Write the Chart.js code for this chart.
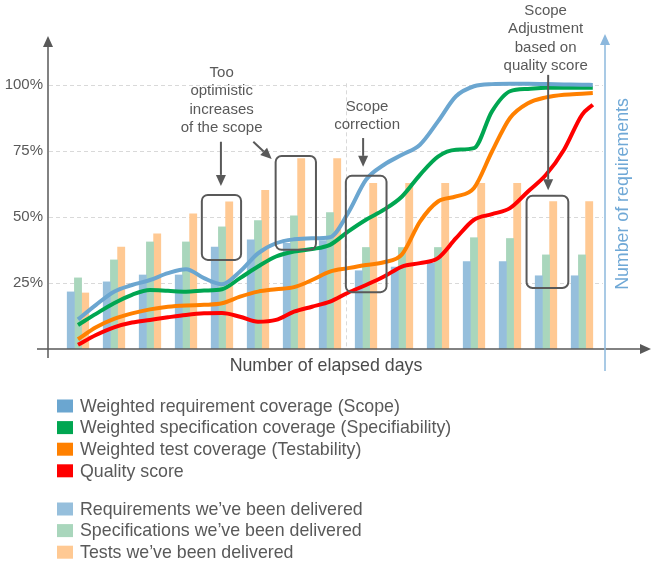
<!DOCTYPE html>
<html>
<head>
<meta charset="utf-8">
<script src="https://cdn.jsdelivr.net/npm/chart.js@4/dist/chart.umd.min.js"></script>
<style>
  html, body { margin: 0; padding: 0; background: #fff; }
  #grafica { display: block; }
</style>
</head>
<body>
<canvas id="grafica" width="654" height="571"></canvas>
<script>
// categories (elapsed days) and delivered items per day, in % of the scale
var days = ["1", "2", "3", "4", "5", "6", "7", "8", "9", "10", "11", "12", "13", "14", "15"];
var reqDelivered  = [21.6, 25.4, 28, 28, 38.6, 41.3, 40, 41, 29.6, 31, 32.4, 33.1, 33.1, 27.7, 27.7];
var specDelivered = [26.9, 33.7, 40.5, 40.5, 46.2, 48.6, 50.4, 51.6, 38.4, 38.4, 38.4, 42.1, 41.8, 35.6, 35.6];
var testDelivered = [21.2, 38.6, 43.6, 51.1, 55.7, 60, 72, 72, 62.7, 62.7, 62.7, 62.7, 62.7, 55.8, 55.8];

// the weighted curves are read at half-day steps (day index)
var lineDays = [0, 0.5, 1, 1.5, 2, 2.5, 3, 3.5, 4, 4.5, 5, 5.5, 6, 6.5, 7, 7.5, 8, 8.5, 9, 9.5, 10, 10.5, 11, 11.5, 12, 12.5, 13, 13.5, 14, 14.3];
var scope          = [11.2, 16.7, 21.7, 24.2, 26.1, 28.7, 30.2, 26.8, 24.5, 29.3, 36.2, 40, 41.5, 41.9, 42.3, 51.4, 64, 69.7, 73.5, 77.3, 86.1, 95.6, 99.4, 100.2, 100.3, 100.3, 100.2, 100.1, 100, 99.9];
var specifiability = [9.1, 13.3, 17.3, 20.5, 22.3, 22, 21.7, 22.1, 22.6, 26.8, 31.2, 35, 36.9, 37.8, 39.4, 44.4, 48.9, 52.7, 57.7, 65.9, 72.8, 75.4, 76, 89.9, 97.5, 98.4, 98.8, 98.8, 98.8, 98.8];
var testability    = [3.7, 8.2, 11.4, 13.5, 15, 16, 16.5, 16.7, 17.3, 19.8, 21.7, 22.6, 23.4, 26.1, 29.3, 30.6, 31.8, 32.8, 35.8, 48.2, 55.8, 57.7, 60.9, 74.7, 87.4, 93, 95.2, 96.2, 96.6, 96.8];
var quality        = [1.6, 5.3, 8.2, 10, 11, 12, 12.9, 13.5, 13.6, 12.2, 10.3, 11, 14.1, 16, 17.9, 21.3, 24.2, 27.4, 31.2, 32.5, 34.4, 41.9, 48.9, 51, 53.3, 59.6, 65.9, 75.4, 88.6, 92.4];

var yTicks = [25, 50, 75, 100];

// callouts, placed in data units (x = day index, y = %)
var boxes = [[3.44, 4.53, 33.7, 58.3], [5.49, 6.61, 37.5, 73], [7.44, 8.57, 21.5, 65.5], [12.46, 13.62, 23.1, 58]];
var arrows = [[3.97, 78.4, 3.97, 61.7], [4.87, 78.4, 5.38, 71.9], [7.92, 79.8, 7.92, 68.9], [13.06, 103.7, 13.06, 60.1]];
var notes = [
    { lines: ["Too", "optimistic", "increases", "of the scope"], x: 3.99, y: 104.4 },
    { lines: ["Scope", "correction"], x: 8.03, y: 91.6 },
    { lines: ["Scope", "Adjustment", "based on", "quality score"], x: 12.99, y: 127.9 }
];

var FONT = "'Liberation Sans', Arial, sans-serif";
var GREY = "#595959";

function puntos(serie) {
    return lineDays.map((d, i) => ({ x: d, y: serie[i] }));
}

// lines share the category axis; x is a (fractional) day index, so no parsing
function linea(label, serie, color) {
    return {
        type: "line", label: label, data: puntos(serie), parsing: false,
        borderColor: color, backgroundColor: color, borderWidth: 4, pointRadius: 0,
        cubicInterpolationMode: "monotone", fill: false, order: 0
    };
}

function barra(label, serie, color) {
    return {
        type: "bar", label: label, data: serie,
        backgroundColor: color, borderWidth: 0, barThickness: 7.2, order: 1
    };
}

function flecha(ctx, x1, y1, x2, y2, color) {
    var ang = Math.atan2(y2 - y1, x2 - x1);
    var len = 11, w = 5;
    var bx = x2 - len * Math.cos(ang), by = y2 - len * Math.sin(ang);
    ctx.strokeStyle = color;
    ctx.fillStyle = color;
    ctx.beginPath();
    ctx.moveTo(x1, y1);
    ctx.lineTo(bx, by);
    ctx.stroke();
    ctx.beginPath();
    ctx.moveTo(x2, y2);
    ctx.lineTo(bx + w * Math.sin(ang), by - w * Math.cos(ang));
    ctx.lineTo(bx - w * Math.sin(ang), by + w * Math.cos(ang));
    ctx.closePath();
    ctx.fill();
}

var decor = {
    id: "decor",
    beforeDatasetsDraw(chart) {
        var ctx = chart.ctx, y = chart.scales.y, x = chart.scales.x;
        ctx.save();
        ctx.strokeStyle = "#d9d9d9";
        ctx.lineWidth = 1;
        ctx.setLineDash([4, 3]);
        yTicks.forEach(t => {
            var py = Math.round(y.getPixelForValue(t)) + 0.5;
            ctx.beginPath();
            ctx.moveTo(49, py);
            ctx.lineTo(603, py);
            ctx.stroke();
        });
        var vx = Math.round(x.getPixelForValue(7.45)) + 0.5;
        ctx.beginPath();
        ctx.moveTo(vx, y.getPixelForValue(100.5));
        ctx.lineTo(vx, y.getPixelForValue(0));
        ctx.stroke();
        ctx.setLineDash([]);
        ctx.fillStyle = GREY;
        ctx.font = "15px " + FONT;
        ctx.textAlign = "right";
        ctx.textBaseline = "middle";
        yTicks.forEach(t => ctx.fillText(t + "%", 43, y.getPixelForValue(t)));
        ctx.restore();
    },
    afterDatasetsDraw(chart) {
        var ctx = chart.ctx, y = chart.scales.y, x = chart.scales.x;
        var y0 = y.getPixelForValue(0);
        ctx.save();
        ctx.lineWidth = 1.5;
        // axes
        flecha(ctx, 37, y0, 651, y0, GREY);
        flecha(ctx, 48, 358, 48, 36, GREY);
        flecha(ctx, 605, 371, 605, 34, "#8cb8dd");

        // callout boxes and arrows
        ctx.lineWidth = 2;
        ctx.strokeStyle = GREY;
        boxes.forEach(b => {
            var x1 = x.getPixelForValue(b[0]), x2 = x.getPixelForValue(b[1]);
            var y1 = y.getPixelForValue(b[3]), y2 = y.getPixelForValue(b[2]);
            ctx.beginPath();
            ctx.roundRect(x1, y1, x2 - x1, y2 - y1, 6);
            ctx.stroke();
        });
        arrows.forEach(a => {
            flecha(ctx, x.getPixelForValue(a[0]), y.getPixelForValue(a[1]),
                x.getPixelForValue(a[2]), y.getPixelForValue(a[3]), GREY);
        });

        // callout texts
        ctx.fillStyle = GREY;
        ctx.font = "15px " + FONT;
        ctx.textAlign = "center";
        ctx.textBaseline = "middle";
        notes.forEach(n => {
            var px = x.getPixelForValue(n.x), py = y.getPixelForValue(n.y);
            n.lines.forEach((t, i) => ctx.fillText(t, px, py + i * 18.3));
        });

        // axis titles
        ctx.font = "17.8px " + FONT;
        ctx.fillStyle = "#4a4a4a";
        ctx.fillText("Number of elapsed days", 326, 366);
        ctx.save();
        ctx.translate(623, 194);
        ctx.rotate(-Math.PI / 2);
        ctx.fillStyle = "#6fa8d6";
        ctx.fillText("Number of requirements", 0, 0);
        ctx.restore();

        // legend: curves first, then delivered bars
        var ds = chart.data.datasets;
        var lines = ds.filter(d => d.type === "line");
        var bars = ds.filter(d => d.type === "bar");
        ctx.textAlign = "left";
        var fila = (d, py) => {
            ctx.fillStyle = d.backgroundColor;
            ctx.fillRect(57, py - 6.5, 16, 13);
            ctx.fillStyle = GREY;
            ctx.fillText(d.label, 80, py + 1);
        };
        lines.forEach((d, i) => fila(d, 406 + i * 21.6));
        bars.forEach((d, i) => fila(d, 509 + i * 21.6));
        ctx.restore();
    }
};

var ctx = document.getElementById("grafica").getContext("2d");
var grafica = new Chart(ctx, {
    data: {
        labels: days,
        datasets: [
            linea("Weighted requirement coverage (Scope)", scope, "#6ba6d0"),
            linea("Weighted specification coverage (Specifiability)", specifiability, "#00a651"),
            linea("Weighted test coverage (Testability)", testability, "#ff8000"),
            linea("Quality score", quality, "#ff0000"),
            barra("Requirements we\u2019ve been delivered", reqDelivered, "#96bfdc"),
            barra("Specifications we\u2019ve been delivered", specDelivered, "#a9d6bc"),
            barra("Tests we\u2019ve been delivered", testDelivered, "#ffc993")
        ]
    },
    options: {
        responsive: false,
        animation: false,
        devicePixelRatio: 1,
        layout: { padding: { left: 60, right: 54, top: 45, bottom: 222 } },
        plugins: { legend: { display: false }, tooltip: { enabled: false } },
        scales: {
            x: { type: "category", display: false, offset: true },
            y: { display: false, min: 0, max: 115 }
        }
    },
    plugins: [decor]
});
</script>
</body>
</html>
